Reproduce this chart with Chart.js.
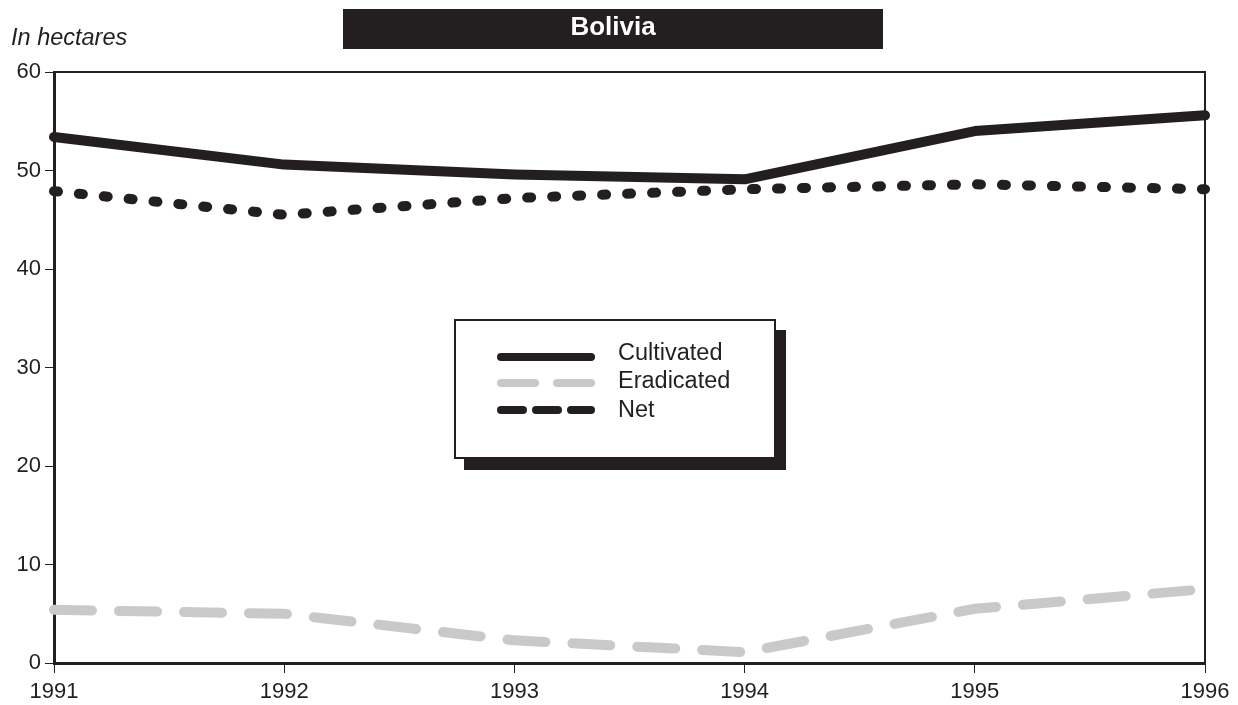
<!DOCTYPE html>
<html>
<head>
<meta charset="utf-8">
<script src="https://cdn.jsdelivr.net/npm/chart.js@4"></script>
<style>
  html, body { margin: 0; padding: 0; background: #fff; }
  #wrap { width: 1238px; height: 705px; position: relative; }
</style>
</head>
<body>
<div id="wrap"><canvas id="chart"></canvas></div>
<script>
  // Data
  const years = ['1991', '1992', '1993', '1994', '1995', '1996'];
  const cultivated = [53.4, 50.6, 49.6, 49.1, 54.0, 55.6];
  const eradicated = [5.4, 5.0, 2.3, 1.1, 5.5, 7.5];
  const net = [47.9, 45.5, 47.2, 48.1, 48.6, 48.1];
  const yTicks = [0, 10, 20, 30, 40, 50, 60];

  const ink = '#231f20';
  const grey = '#c8c9ca';
  const font = '"Liberation Sans", Arial, sans-serif';

  // Legend entries with their own sample dash patterns
  const legendItems = [
    { label: 'Cultivated', color: ink, dash: [] },
    { label: 'Eradicated', color: grey, dash: [34, 22] },
    { label: 'Net', color: ink, dash: [22, 13] }
  ];

  // Frame, title bar, unit label and boxed legend
  const decorations = {
    id: 'decorations',
    afterDraw(chart) {
      const ctx = chart.ctx;
      const area = chart.chartArea;
      ctx.save();

      // top and right frame lines
      ctx.strokeStyle = ink;
      ctx.lineWidth = 2;
      ctx.beginPath();
      ctx.moveTo(area.left, area.top);
      ctx.lineTo(area.right, area.top);
      ctx.lineTo(area.right, area.bottom);
      ctx.stroke();

      // title bar
      ctx.fillStyle = ink;
      ctx.fillRect(343, 9, 540, 40);
      ctx.fillStyle = '#fff';
      ctx.font = 'bold 26px ' + font;
      ctx.textAlign = 'center';
      ctx.textBaseline = 'middle';
      ctx.fillText('Bolivia', 613, 28);

      // unit label
      ctx.fillStyle = ink;
      ctx.font = 'italic 23.5px ' + font;
      ctx.textAlign = 'left';
      ctx.textBaseline = 'alphabetic';
      ctx.fillText('In hectares', 11, 45);

      // legend box with shadow
      const bx = 455, by = 320, bw = 320, bh = 138;
      ctx.fillStyle = ink;
      ctx.fillRect(bx + 9, by + 10, bw + 2, bh + 2);
      ctx.fillStyle = '#fff';
      ctx.fillRect(bx, by, bw, bh);
      ctx.strokeStyle = ink;
      ctx.lineWidth = 2;
      ctx.strokeRect(bx, by, bw, bh);

      const lineY = [357, 383, 410];
      const textY = [354, 382, 411];
      legendItems.forEach((item, i) => {
        ctx.strokeStyle = item.color;
        ctx.lineWidth = 8;
        ctx.lineCap = 'round';
        ctx.setLineDash(item.dash);
        ctx.beginPath();
        ctx.moveTo(501, lineY[i]);
        ctx.lineTo(591, lineY[i]);
        ctx.stroke();
        ctx.setLineDash([]);
        ctx.fillStyle = ink;
        ctx.font = '23.5px ' + font;
        ctx.textAlign = 'left';
        ctx.textBaseline = 'middle';
        ctx.fillText(item.label, 618, textY[i]);
      });
      ctx.restore();
    }
  };

  new Chart(document.getElementById('chart'), {
    type: 'line',
    data: {
      labels: years,
      datasets: [
        {
          label: 'Eradicated',
          data: eradicated,
          borderColor: grey,
          borderWidth: 10,
          borderDash: [38, 27],
          borderCapStyle: 'round',
          pointRadius: 0,
          tension: 0
        },
        {
          label: 'Net',
          data: net,
          borderColor: ink,
          borderWidth: 10,
          borderDash: [4, 21],
          borderCapStyle: 'round',
          pointRadius: 0,
          tension: 0
        },
        {
          label: 'Cultivated',
          data: cultivated,
          borderColor: ink,
          borderWidth: 10,
          borderCapStyle: 'round',
          borderJoinStyle: 'round',
          pointRadius: 0,
          tension: 0
        }
      ]
    },
    options: {
      responsive: true,
      maintainAspectRatio: false,
      animation: false,
      layout: { padding: { top: 72, right: 33, left: 0, bottom: 0 } },
      plugins: {
        legend: { display: false },
        title: { display: false },
        tooltip: { enabled: false }
      },
      scales: {
        x: {
          grid: { drawOnChartArea: false, drawTicks: true, tickLength: 10, color: ink },
          border: { color: ink, width: 3 },
          ticks: { color: ink, font: { family: font, size: 22 }, padding: 6, maxRotation: 0 },
          afterFit(scale) { scale.height = 42; }
        },
        y: {
          min: 0,
          max: 60,
          afterBuildTicks(scale) { scale.ticks = yTicks.map(v => ({ value: v })); },
          grid: { drawOnChartArea: false, drawTicks: true, tickLength: 9, color: ink },
          border: { color: ink, width: 3 },
          ticks: { color: ink, font: { family: font, size: 22 }, padding: 4 },
          afterFit(scale) { scale.width = 54; }
        }
      }
    },
    plugins: [decorations]
  });
</script>
</body>
</html>
